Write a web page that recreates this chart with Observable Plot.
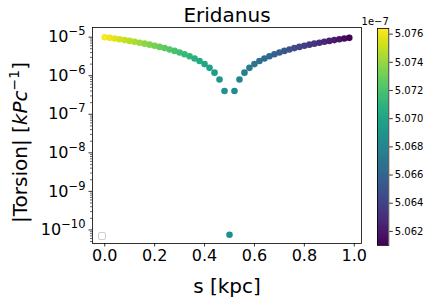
<!DOCTYPE html>
<html>
<head>
<meta charset="utf-8">
<script src="https://cdn.jsdelivr.net/npm/d3@7"></script>
<script src="https://cdn.jsdelivr.net/npm/@observablehq/plot@0.6"></script>
<style>
  html, body { margin: 0; padding: 0; background: white; }
  #wrap { position: relative; width: 430px; height: 300px; overflow: hidden; background: white; }
  #wrap svg { position: absolute; top: 0; }
  #legendbox { position: absolute; left: 98px; top: 232px; width: 8px; height: 8px; box-sizing: border-box;
    border: 1px solid #cfcfcf; border-radius: 2px; background: white; }
</style>
</head>
<body>
<div id="wrap"></div>
<script>
// ---- data ----
const sValues = [0.00,0.02,0.04,0.06,0.08,0.10,0.12,0.14,0.16,0.18,
                 0.20,0.22,0.24,0.26,0.28,0.30,0.32,0.34,0.36,0.38,
                 0.40,0.42,0.44,0.46,0.48,0.50,0.52,0.54,0.56,0.58,
                 0.60,0.62,0.64,0.66,0.68,0.70,0.72,0.74,0.76,0.78,
                 0.80,0.82,0.84,0.86,0.88,0.90,0.92,0.94,0.96,0.98];
const torsionValues = [1.00e-5,9.6e-6,9.2e-6,8.8e-6,8.4e-6,8.0e-6,7.6e-6,7.2e-6,6.8e-6,6.4e-6,
                       6.0e-6,5.6e-6,5.2e-6,4.8e-6,4.4e-6,4.0e-6,3.6e-6,3.2e-6,2.8e-6,2.4e-6,
                       2.0e-6,1.6e-6,1.2e-6,8.0e-7,4.0e-7,7.5e-11,4.0e-7,8.0e-7,1.2e-6,1.6e-6,
                       2.0e-6,2.4e-6,2.8e-6,3.2e-6,3.6e-6,4.0e-6,4.4e-6,4.8e-6,5.2e-6,5.6e-6,
                       6.0e-6,6.4e-6,6.8e-6,7.2e-6,7.6e-6,8.0e-6,8.4e-6,8.8e-6,9.2e-6,9.6e-6];
// colour values in units of 1e-7
const colorValues = [5.0763,5.0760,5.0757,5.0754,5.0751,5.0748,5.0745,5.0742,5.0738,5.0735,
                     5.0732,5.0729,5.0726,5.0723,5.0720,5.0717,5.0714,5.0711,5.0707,5.0704,
                     5.0701,5.0698,5.0695,5.0692,5.0689,5.0686,5.0683,5.0680,5.0676,5.0673,
                     5.0670,5.0667,5.0664,5.0661,5.0658,5.0655,5.0652,5.0649,5.0645,5.0642,
                     5.0639,5.0636,5.0633,5.0630,5.0627,5.0624,5.0621,5.0618,5.0614,5.0611];
const xTicks = [0.0, 0.2, 0.4, 0.6, 0.8, 1.0];
const yMajorTicks = [1e-10, 1e-9, 1e-8, 1e-7, 1e-6, 1e-5];
const colorTicks = [5.062, 5.064, 5.066, 5.068, 5.070, 5.072, 5.074, 5.076];
const colorDomain = [5.0610, 5.0764];
const titleText = "Eridanus";
const xLabel = "s [kpc]";
const yLabelKey = "|Torsion| [kPc^-1]";
const colorOffsetLabel = "1e\u22127";

const data = sValues.map((s, i) => ({s, t: torsionValues[i], c: colorValues[i]}));

// minor log ticks
const yMinorTicks = [];
for (let e = -11; e <= -4; e++) for (let m = 2; m <= 9; m++) yMinorTicks.push(m * 10 ** e);

const colorOpts = {type: "linear", scheme: "viridis", domain: colorDomain};
const font = "'DejaVu Sans', sans-serif";
const yDomain = [10 ** -10.352, 10 ** -4.749];

const main = Plot.plot({
  width: 375, height: 300,
  marginLeft: 92, marginRight: 14, marginTop: 27, marginBottom: 57,
  style: {fontFamily: font, fontSize: "16px", background: "white", color: "black", overflow: "visible"},
  x: {domain: [-0.049, 1.029]},
  y: {type: "log", domain: yDomain},
  color: colorOpts,
  marks: [
    Plot.dot(data, {x: "s", y: "t", fill: "c", r: 3.3, stroke: null}),
    Plot.frame({stroke: "black", strokeWidth: 0.8}),
    Plot.axisX({ticks: xTicks, tickSize: 3.5, tickPadding: 3, strokeWidth: 0.8,
      tickFormat: d3.format(".1f"), label: null, fontSize: 16}),
    Plot.axisY({ticks: yMinorTicks.filter(v => v > yDomain[0] && v < yDomain[1]),
      tickSize: 2, strokeWidth: 0.6, tickFormat: () => "", label: null}),
    Plot.axisY({ticks: yMajorTicks, tickSize: 3.5, tickPadding: 3.5, strokeWidth: 0.8,
      tickFormat: d => "10^" + Math.round(Math.log10(d)), label: null, fontSize: 16}),
    Plot.text([titleText], {frameAnchor: "top", dy: -5.3, lineAnchor: "bottom", fontSize: 20}),
    Plot.text([xLabel], {frameAnchor: "bottom", dy: 49, lineAnchor: "bottom", fontSize: 20}),
    Plot.text([yLabelKey], {frameAnchor: "left", textAnchor: "middle", dx: -72, dy: 7, rotate: -90, fontSize: 20})
  ]
});

// superscripted y tick labels and y label
d3.select(main).selectAll("text").each(function() {
  const el = d3.select(this);
  const txt = el.text();
  if (txt === yLabelKey) {
    el.text("");
    el.append("tspan").text("|Torsion| [");
    el.append("tspan").attr("font-style", "italic").text("kPc");
    el.append("tspan").attr("font-size", "14px").attr("dy", "-8").text("\u22121");
    el.append("tspan").attr("dy", "8").text("]");
  } else if (/^10\^/.test(txt)) {
    const exp = txt.slice(3).replace("-", "\u2212");
    el.text("");
    el.append("tspan").text("10");
    el.append("tspan").attr("font-size", "11.5px").attr("dy", "-7").text(exp);
  }
});

// colorbar
const nSteps = 240;
const ramp = d3.range(nSteps).map(i => {
  const a = colorDomain[0] + (colorDomain[1] - colorDomain[0]) * i / nSteps;
  const b = colorDomain[0] + (colorDomain[1] - colorDomain[0]) * (i + 1) / nSteps;
  return [a, b];
});
const cbar = Plot.plot({
  width: 55, height: 300,
  marginLeft: 2, marginRight: 41.7, marginTop: 28, marginBottom: 55,
  style: {fontFamily: font, fontSize: "10px", background: "transparent", color: "black", overflow: "visible"},
  y: {domain: colorDomain},
  color: colorOpts,
  marks: [
    Plot.rect(ramp, {y1: d => d[0], y2: d => d[1], fill: d => (d[0] + d[1]) / 2, shapeRendering: "crispEdges"}),
    Plot.frame({stroke: "black", strokeWidth: 0.8}),
    Plot.axisY({anchor: "right", ticks: colorTicks, tickSize: 3.5, tickPadding: 2.5, strokeWidth: 0.8,
      tickFormat: d3.format(".3f"), label: null, fontSize: 10}),
    Plot.text([colorOffsetLabel], {frameAnchor: "top-right", dy: -4, lineAnchor: "bottom", textAnchor: "end", fontSize: 10})
  ]
});
cbar.style.left = "375px";

const wrap = document.getElementById("wrap");
main.style.left = "0px";
wrap.appendChild(main);
wrap.appendChild(cbar);
const lb = document.createElement("div");
lb.id = "legendbox";
wrap.appendChild(lb);
</script>
</body>
</html>
